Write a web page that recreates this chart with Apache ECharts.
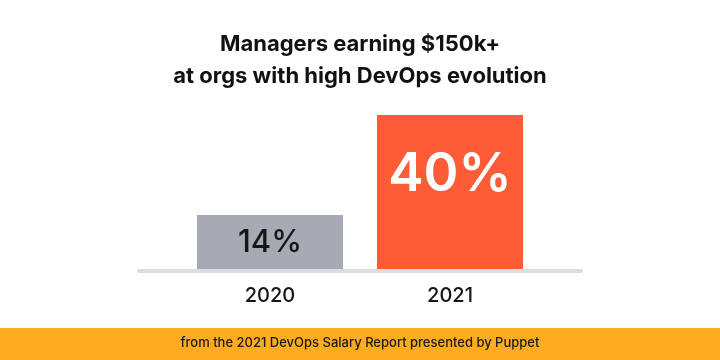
<!DOCTYPE html>
<html>
<head>
<meta charset="utf-8">
<script src="https://cdn.jsdelivr.net/npm/echarts@6/dist/echarts.min.js"></script>
<style>html,body{margin:0;padding:0;background:#fff}#c{width:720px;height:360px}</style>
</head>
<body>
<div id="c"></div>
<script>
const categories = ['2020', '2021'];
const values = [14, 40];
const titleLines = ['Managers earning $150k+', 'at orgs with high DevOps evolution'];
const footerText = 'from the 2021 DevOps Salary Report presented by Puppet';

const FONT = 'Inter, "Noto Sans", sans-serif';
const barColors = ['#a6aab5', '#fe5b37'];
const labelStyles = [
  { color: '#161616', fontSize: 31, fontWeight: 500, offset: [0, 1] },
  { color: '#ffffff', fontSize: 53, fontWeight: 600, offset: [0, -17] }
];

const chart = echarts.init(document.getElementById('c'), null, { renderer: 'canvas' });
chart.setOption({
  backgroundColor: '#ffffff',
  animation: false,
  title: {
    text: titleLines.join('\n'),
    left: 'center',
    top: 23,
    textStyle: { fontFamily: FONT, fontSize: 22, fontWeight: 700, color: '#111111', lineHeight: 32 }
  },
  grid: { left: 180, right: 180, top: 115, bottom: 91 },
  xAxis: {
    type: 'category',
    data: categories,
    axisLine: { show: false },
    axisTick: { show: false },
    axisLabel: { fontFamily: FONT, fontSize: 20, fontWeight: 500, color: '#161616', margin: 17 }
  },
  yAxis: { type: 'value', min: 0, max: 40, show: false, splitLine: { show: false } },
  graphic: [
    { type: 'rect', left: 137, top: 269, shape: { width: 446, height: 4, r: 2 }, style: { fill: '#dcdde1' }, z: 1 },
    { type: 'rect', left: 0, top: 328, shape: { width: 720, height: 32 }, style: { fill: '#fdab1f' }, z: 1 },
    { type: 'text', left: 'center', top: 337, style: { text: footerText, font: '500 13px ' + FONT, fill: '#1a1a1a' }, z: 2 }
  ],
  series: [{
    type: 'bar',
    barWidth: 146,
    z: 3,
    data: values.map((v, i) => ({
      value: v,
      itemStyle: { color: barColors[i] },
      label: Object.assign({ show: true, position: 'inside', fontFamily: FONT, formatter: '{c}%' }, labelStyles[i])
    }))
  }]
});
</script>
</body>
</html>
